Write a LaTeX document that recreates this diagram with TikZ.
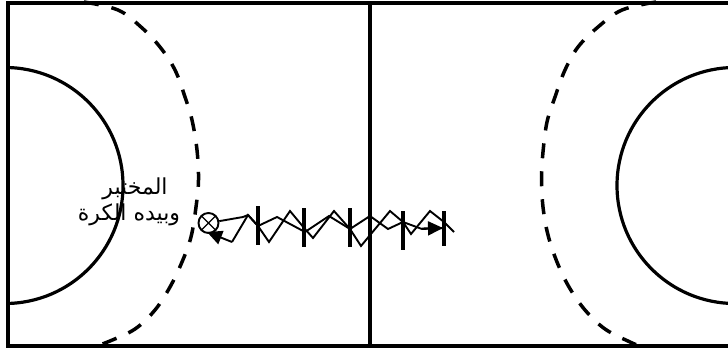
\documentclass[tikz,border=0pt]{standalone}
\usepackage{fontspec}
\newfontfamily\arabicfont[Script=Arabic]{DejaVu Sans}
\TeXXeTstate=1
\usetikzlibrary{arrows.meta}
\tikzset{
  court/.style={line width=3.2pt,black},
  zone/.style={line width=3.5pt,black,dash pattern=on 15pt off 13pt},
  zig/.style={line width=1.9pt,black,line join=miter},
  tick/.style={line width=3.8pt,black},
  lbl/.style={font=\arabicfont\fontsize{22}{22}\selectfont,inner sep=0pt,black}
}
\begin{document}
\begin{tikzpicture}[x=1pt,y=-1pt]
\useasboundingbox (0,0) rectangle (728,353);
\fill[white] (0,0) rectangle (728,353);
\begin{scope}
\clip (0,0) rectangle (728,353);
% dashed zones
\draw[zone] plot[smooth,tension=0.6] coordinates {(84,2) (118,10) (141,27) (160,47) (175,70) (185,97) (192,120) (197,150) (198.5,180) (196,207) (191,237) (182,262) (170,287) (155,310) (135,329) (110,341) (96,346)};
\draw[zone] plot[smooth,tension=0.6] coordinates {(656,2) (622,10) (598,27) (578,47) (565,70) (555,97) (547,122) (543,152) (541.5,178) (543,207) (548,235) (557,262) (569,287) (585,310) (605,329) (630,342) (640,346)};
% solid arcs
\begin{scope}
\clip (8,3) rectangle (728,346);
\draw[court] (5,185.5) circle[radius=118];
\draw[court] (735,185.5) circle[radius=118];
\end{scope}
% frame
\draw[court] (730,3) -- (8,3) -- (8,346) -- (730,346);
\draw[court] (370,3) -- (370,346);
\end{scope}
% ticks
\draw[tick] (258,206) -- (258,245);
\draw[tick] (304,208) -- (304,247);
\draw[tick] (350,208) -- (350,247);
\draw[tick] (403,211) -- (403,250);
\draw[tick] (444,211) -- (444,246);
% player with ball
\node[draw,circle,line width=1.9pt,minimum size=20pt,inner sep=0pt,
      path picture={\draw[line width=1.4pt] (path picture bounding box.north west) -- (path picture bounding box.south east)
      (path picture bounding box.north east) -- (path picture bounding box.south west);}] (ball) at (208.5,223) {};
\coordinate (a0) at (232,242);
\coordinate (a9) at (207,232);
\coordinate (z9) at (443,228);
% return zigzag
\draw[zig] (a0) -- (248,215) -- (258,226) -- (277,217) -- (305,232) -- (329,216) -- (350,229) -- (370,216) -- (388,229) -- (403,222) -- (422,229) -- (z9);
\draw[zig,-{Triangle[length=15pt,width=14pt]}] (a0) -- (a9);
\draw[zig] (ball) -- (243,217) -- (248,215);
\draw[zig,-{Triangle[length=15pt,width=14pt]}] (422,228.5) -- (z9);
% dribble zigzag
\draw[zig] (248,215) -- (258,226) -- (269,242) -- (290,211) -- (305,229) -- (313,238) -- (334,211) -- (350,229) -- (361,246) -- (390,211) -- (403,222) -- (411,234) -- (430,211) -- (444,222) -- (454,232);
% text
\node[lbl] (t1) at (135,189) {\beginR المختبر\endR};
\node[lbl] (t2) at (129,215) {\beginR وبيده الكرة\endR};
\end{tikzpicture}
\end{document}
